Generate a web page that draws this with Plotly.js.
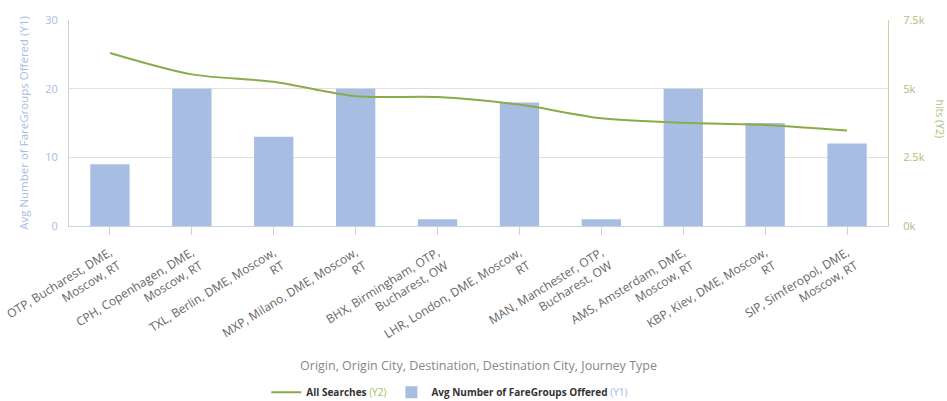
<!DOCTYPE html>
<html>
<head>
<meta charset="utf-8">
<script src="https://cdn.plot.ly/plotly-3.0.1.min.js"></script>
<style>
  html, body { margin: 0; padding: 0; background: #fff; }
  #chart { width: 947px; height: 401px; }
</style>
</head>
<body>
<div id="chart"></div>
<script>
// Routes: origin, origin city, destination, destination city, journey type
const routes = [
  'OTP, Bucharest, DME,<br>Moscow, RT',
  'CPH, Copenhagen, DME,<br>Moscow, RT',
  'TXL, Berlin, DME, Moscow,<br>RT',
  'MXP, Milano, DME, Moscow,<br>RT',
  'BHX, Birmingham, OTP,<br>Bucharest, OW',
  'LHR, London, DME, Moscow,<br>RT',
  'MAN, Manchester, OTP,<br>Bucharest, OW',
  'AMS, Amsterdam, DME,<br>Moscow, RT',
  'KBP, Kiev, DME, Moscow,<br>RT',
  'SIP, Simferopol, DME,<br>Moscow, RT'
];

// Avg number of fare groups offered (left axis)
const avgFareGroups = [9, 20, 13, 20, 1, 18, 1, 20, 15, 12];

// All searches (right axis)
const allSearches = [6300, 5520, 5250, 4720, 4700, 4420, 3920, 3760, 3680, 3480];

// Right axis ticks
const y2TickVals = [0, 2500, 5000, 7500];
const y2TickText = ['0k', '2.5k', '5k', '7.5k'];

const lineColor = '#8aab48';
const barColor = '#a8bde2';
const gridColor = '#e6ded6';
const font = 'Open Sans, DejaVu Sans, sans-serif';

const traces = [
  {
    type: 'scatter',
    mode: 'lines',
    x: routes,
    y: allSearches,
    yaxis: 'y2',
    name: '<b>All Searches</b> <span style="color:#9fbf5a">(Y2)</span>',
    line: { color: lineColor, width: 2, shape: 'spline', smoothing: 0.8 },
    hoverinfo: 'x+y'
  },
  {
    type: 'bar',
    x: routes,
    y: avgFareGroups,
    yaxis: 'y',
    name: '<b>Avg Number of FareGroups Offered</b> <span style="color:#9fb6e0">(Y1)</span>',
    marker: { color: barColor },
    hoverinfo: 'x+y'
  }
];

const layout = {
  width: 947,
  height: 401,
  margin: { l: 69, r: 59, t: 20, b: 175 },
  paper_bgcolor: '#ffffff',
  plot_bgcolor: '#ffffff',
  font: { family: font, size: 10, color: '#666' },
  bargap: 0.52,
  showlegend: true,
  legend: {
    orientation: 'h',
    xref: 'container', yref: 'container',
    x: 0.475, xanchor: 'center',
    y: 0.022, yanchor: 'middle',
    font: { family: font, size: 10, color: '#333' },
    traceorder: 'normal',
    itemwidth: 30
  },
  xaxis: {
    type: 'category',
    tickangle: -32,
    tickfont: { family: font, size: 12, color: '#666' },
    ticks: 'outside',
    ticklen: 8,
    tickcolor: '#c8d2e2',
    ticklabelstandoff: 6,
    showline: true,
    linecolor: '#c8d2e2',
    linewidth: 1,
    showgrid: false,
    automargin: false,
    title: {
      text: 'Origin, Origin City, Destination, Destination City, Journey Type',
      font: { family: font, size: 12.5, color: '#888' },
      standoff: 6
    }
  },
  yaxis: {
    range: [0, 30],
    tickvals: [0, 10, 20, 30],
    tickfont: { family: font, size: 11, color: '#a9bde0' },
    showline: true,
    linecolor: '#c8d2e2',
    showgrid: true,
    gridcolor: gridColor,
    gridwidth: 1.5,
    zeroline: false,
    ticks: '',
    ticklabelstandoff: 8,
    automargin: false,
    title: {
      text: 'Avg Number of FareGroups Offered (Y1)',
      font: { family: font, size: 11.5, color: '#a9bde0' },
      standoff: 14
    }
  },
  yaxis2: {
    overlaying: 'y',
    side: 'right',
    range: [0, 7500],
    tickvals: y2TickVals,
    ticktext: y2TickText,
    tickfont: { family: font, size: 11, color: '#a8c27a' },
    showline: true,
    linecolor: '#c9d3a8',
    showgrid: false,
    zeroline: false,
    ticks: '',
    ticklabelstandoff: 12,
    automargin: false
  },
  annotations: [
    {
      text: 'hits (Y2)',
      xref: 'paper', yref: 'paper',
      x: 1.064, y: 0.52,
      xanchor: 'center', yanchor: 'middle',
      textangle: 90,
      showarrow: false,
      font: { family: font, size: 10.5, color: '#a8c27a' }
    }
  ]
};

Plotly.newPlot('chart', traces, layout, { displayModeBar: false, staticPlot: true });
</script>
</body>
</html>
